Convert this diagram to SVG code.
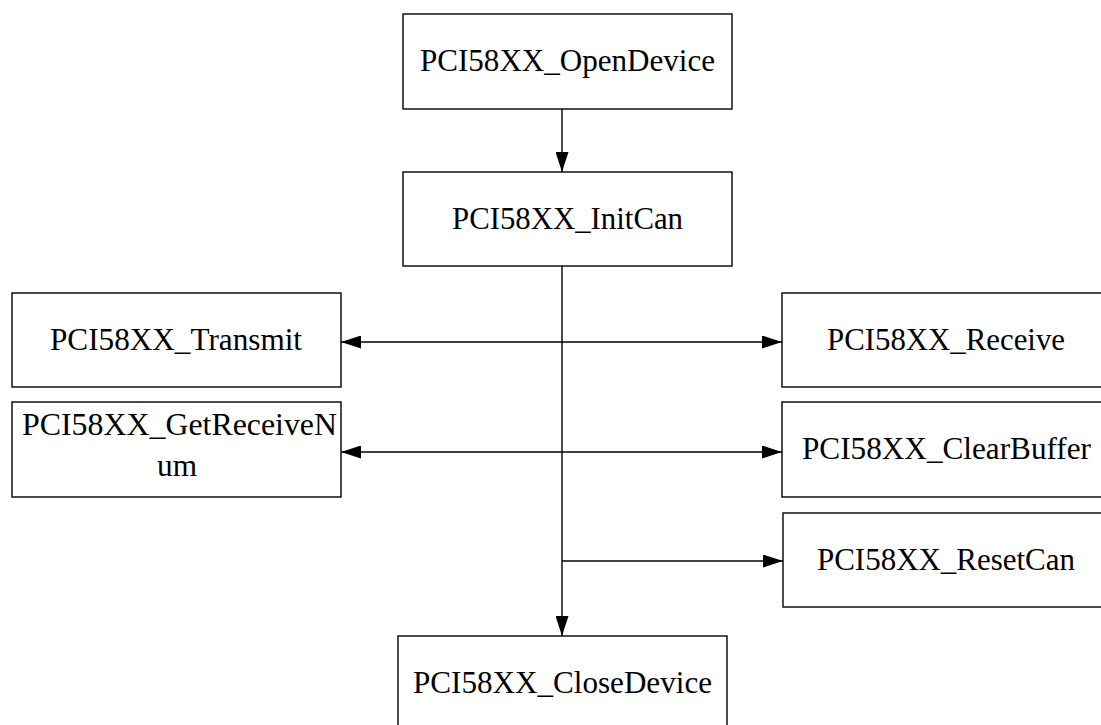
<svg xmlns="http://www.w3.org/2000/svg" width="1101" height="725" viewBox="0 0 1101 725">
<defs>
<marker id="arr" markerUnits="userSpaceOnUse" markerWidth="20" markerHeight="13" refX="20" refY="6.5" orient="auto-start-reverse">
<path d="M0,0 L20,6.5 L0,13 z" fill="#000"/>
</marker>
<style>
.box{fill:#fff;stroke:#000;stroke-width:1.4}
.lbl{font-family:'Liberation Serif','Times New Roman',serif;font-size:31px;fill:#000}
.edge{fill:none;stroke:#000;stroke-width:1.4}
</style>
</defs>
<rect width="1101" height="725" fill="#fff"/>
<g id="connectors">
<line class="edge" x1="562" y1="109" x2="562" y2="172" marker-end="url(#arr)"/>
<line class="edge" x1="562" y1="266" x2="562" y2="636" marker-end="url(#arr)"/>
<line class="edge" x1="341" y1="342" x2="782" y2="342" marker-start="url(#arr)" marker-end="url(#arr)"/>
<line class="edge" x1="341" y1="452" x2="782" y2="452" marker-start="url(#arr)" marker-end="url(#arr)"/>
<line class="edge" x1="562" y1="561" x2="783" y2="561" marker-end="url(#arr)"/>
</g>
<g id="open">
<rect class="box" x="403" y="14" width="329" height="95"/>
<text class="lbl" x="420" y="71" textLength="295" lengthAdjust="spacingAndGlyphs">PCI58XX_OpenDevice</text>
</g>
<g id="init">
<rect class="box" x="403" y="172" width="329" height="94"/>
<text class="lbl" x="452" y="229" textLength="231" lengthAdjust="spacingAndGlyphs">PCI58XX_InitCan</text>
</g>
<g id="transmit">
<rect class="box" x="12" y="293" width="329" height="94"/>
<text class="lbl" x="50" y="350" textLength="252" lengthAdjust="spacingAndGlyphs">PCI58XX_Transmit</text>
</g>
<g id="getreceivenum">
<rect class="box" x="12" y="402" width="329" height="95"/>
<text class="lbl" x="22" y="435" textLength="315" lengthAdjust="spacingAndGlyphs">PCI58XX_GetReceiveN</text>
<text class="lbl" x="157" y="476" textLength="40" lengthAdjust="spacingAndGlyphs">um</text>
</g>
<g id="receive">
<rect class="box" x="782" y="293" width="329" height="94"/>
<text class="lbl" x="827" y="350" textLength="238" lengthAdjust="spacingAndGlyphs">PCI58XX_Receive</text>
</g>
<g id="clearbuffer">
<rect class="box" x="782" y="402" width="329" height="95"/>
<text class="lbl" x="802" y="459" textLength="289" lengthAdjust="spacingAndGlyphs">PCI58XX_ClearBuffer</text>
</g>
<g id="resetcan">
<rect class="box" x="783" y="513" width="329" height="94"/>
<text class="lbl" x="817" y="570" textLength="258" lengthAdjust="spacingAndGlyphs">PCI58XX_ResetCan</text>
</g>
<g id="close">
<rect class="box" x="398" y="636" width="329" height="95"/>
<text class="lbl" x="413" y="693" textLength="299" lengthAdjust="spacingAndGlyphs">PCI58XX_CloseDevice</text>
</g>
</svg>
